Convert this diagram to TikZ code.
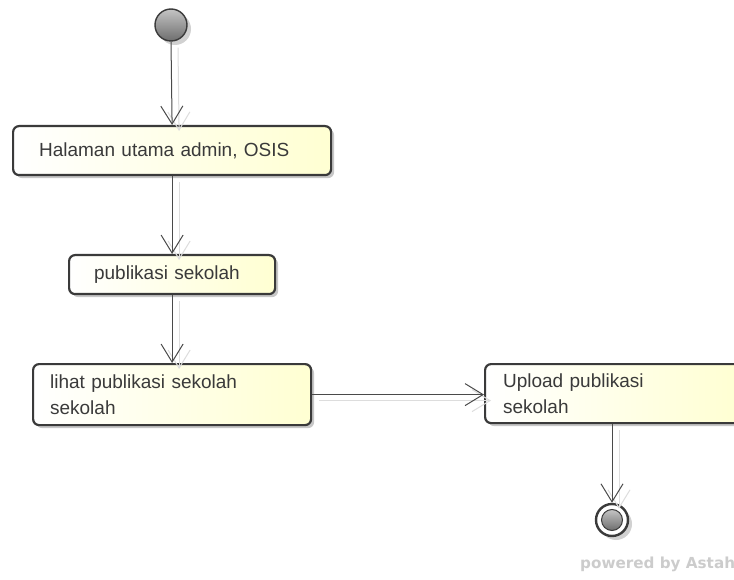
\documentclass[tikz,border=0pt]{standalone}
\usepackage{fontspec}
\setmainfont{Liberation Sans}
\newfontfamily\wmfont{DejaVu Sans}
\usetikzlibrary{arrows.meta,shadows}
\definecolor{edgec}{HTML}{3A3A3A}
\definecolor{txtc}{HTML}{3A3A3A}
\definecolor{boxy}{HTML}{FFFFD2}
\definecolor{connc}{HTML}{4A4A4A}
\definecolor{ghostc}{HTML}{DDDDDD}
\definecolor{balltop}{HTML}{C4C4C4}
\definecolor{ballbot}{HTML}{6E6E6E}
\definecolor{wmc}{HTML}{CCCCCC}
\begin{document}
\begin{tikzpicture}[x=1pt,y=-1pt,
  actbox/.style={draw=edgec, line width=2.2pt, rounded corners=6pt,
    left color=white, right color=boxy, text=txtc, align=left,
    anchor=north west, inner ysep=0pt,
    font=\fontsize{19}{26}\selectfont,
    drop shadow={shadow xshift=3pt, shadow yshift=-3pt, opacity=0.22, fill=black}},
  flow/.style={draw=connc, line width=1pt,
    -{Straight Barb[length=18pt,width=22pt,line width=1pt]}},
  ghostflow/.style={draw=ghostc, line width=1pt,
    -{Straight Barb[length=18pt,width=22pt,line width=1pt]},
    transform canvas={shift={(7pt,-6pt)}}},
  startnode/.style={circle, minimum size=32pt, inner sep=0pt, draw=edgec,
    line width=1.4pt, top color=balltop, bottom color=ballbot,
    drop shadow={shadow xshift=4pt, shadow yshift=-4pt, opacity=0.18, fill=black}},
  endring/.style={circle, minimum size=32pt, inner sep=0pt, draw=edgec,
    line width=2.4pt, fill=white,
    drop shadow={shadow xshift=4pt, shadow yshift=-4pt, opacity=0.18, fill=black}},
  endcore/.style={circle, minimum size=21pt, inner sep=0pt, draw=edgec,
    line width=1pt, top color=balltop, bottom color=ballbot},
  wmtext/.style={text=wmc, font=\wmfont\bfseries\fontsize{15.2}{17}\selectfont,
    anchor=west, inner sep=0pt}
]
\clip (0,0) rectangle (734,580);
\fill[white] (0,0) rectangle (734,580);

\node[startnode] (start) at (171,25) {};
\node[actbox, minimum height=49pt, text width=266pt, inner xsep=26pt]
  (b1) at (12,125) {Halaman utama admin, OSIS};
\node[actbox, minimum height=39pt, text width=156pt, inner xsep=25pt]
  (b2) at (68,254) {publikasi sekolah};
\node[actbox, minimum height=61pt, text width=244pt, inner xsep=17pt]
  (b3) at (32,363) {lihat publikasi sekolah\\sekolah};
\node[actbox, minimum height=59pt, text width=220pt, inner xsep=18pt]
  (b4) at (484,363) {Upload publikasi\\sekolah};
\node[endring] (end) at (612,520) {};
\node[endcore] (endc) at (end.center) {};

% ghost (shadow) connectors
\draw[ghostflow] (start.south) -- (b1.north);
\draw[ghostflow] (b1.south) -- (b2.north);
\draw[ghostflow] (b2.south) -- (b3.north);
\draw[ghostflow] (b3.east) -- (b3.east -| b4.west);
\draw[ghostflow] (b4.south -| end.north) -- (end.north);

% connectors
\draw[flow] (start.south) -- (b1.north);
\draw[flow] (b1.south) -- (b2.north);
\draw[flow] (b2.south) -- (b3.north);
\draw[flow] (b3.east) -- (b3.east -| b4.west);
\draw[flow] (b4.south -| end.north) -- (end.north);

\node[wmtext] (astah) at (580,564) {powered by Astah};
\end{tikzpicture}
\end{document}
